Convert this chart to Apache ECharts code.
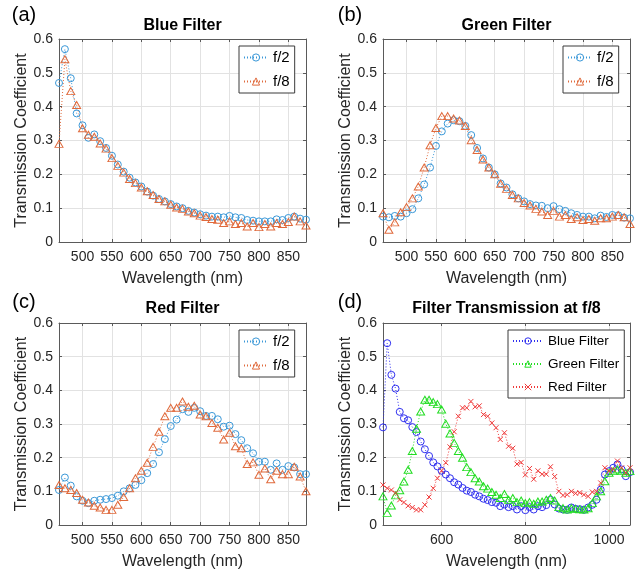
<!DOCTYPE html>
<html><head><meta charset="utf-8">
<script src="https://cdn.jsdelivr.net/npm/echarts@6/dist/echarts.min.js"></script>
<style>html,body{margin:0;padding:0;background:#fff}#c{width:638px;height:573px}</style>
</head><body><div id="c"></div>
<script>
// ---- data ----
const wavelength = [460,470,480,490,500,510,520,530,540,550,560,570,580,590,600,610,620,630,640,650,660,670,680,690,700,710,720,730,740,750,760,770,780,790,800,810,820,830,840,850,860,870,880,890,900,910,920,930,940,950,960,970,980,990,1000,1010,1020,1030,1040,1050];
const visTicks = [500,550,600,650,700,750,800,850];
const nirTicks = [600,800,1000];
const yTicks = [0,0.1,0.2,0.3,0.4,0.5,0.6];

const blueF2 = [0.47,0.57,0.484,0.38,0.345,0.308,0.318,0.298,0.278,0.255,0.229,0.208,0.19,0.176,0.164,0.149,0.137,0.127,0.12,0.112,0.105,0.1,0.092,0.087,0.082,0.078,0.075,0.075,0.073,0.077,0.073,0.071,0.065,0.063,0.061,0.061,0.061,0.067,0.065,0.071,0.075,0.069,0.066];
const blueF8 = [0.29,0.54,0.446,0.405,0.336,0.317,0.311,0.291,0.276,0.248,0.225,0.205,0.186,0.174,0.161,0.15,0.139,0.127,0.12,0.11,0.102,0.098,0.09,0.085,0.078,0.074,0.068,0.066,0.056,0.061,0.053,0.056,0.046,0.056,0.044,0.053,0.046,0.056,0.053,0.059,0.075,0.061,0.049,
  0.046,0.045,0.052,0.048,0.047,0.045,0.052,0.06,0.075,0.105,0.15,0.16,0.17,0.18,0.165,0.145,0.157];
const greenF2 = [0.075,0.073,0.077,0.075,0.085,0.097,0.129,0.17,0.22,0.284,0.327,0.35,0.36,0.357,0.343,0.316,0.278,0.247,0.22,0.2,0.173,0.161,0.141,0.129,0.12,0.112,0.108,0.107,0.1,0.106,0.097,0.092,0.085,0.08,0.075,0.075,0.07,0.078,0.074,0.08,0.079,0.072,0.07];
const greenF8 = [0.085,0.036,0.058,0.088,0.103,0.129,0.164,0.22,0.286,0.337,0.372,0.372,0.365,0.359,0.343,0.301,0.272,0.244,0.22,0.2,0.172,0.157,0.139,0.129,0.115,0.108,0.098,0.09,0.08,0.092,0.075,0.08,0.068,0.073,0.065,0.068,0.063,0.07,0.07,0.075,0.08,0.073,0.053,
  0.05,0.046,0.05,0.048,0.047,0.046,0.05,0.065,0.085,0.1,0.13,0.155,0.16,0.165,0.16,0.155,0.16];
const redF2 = [0.104,0.141,0.117,0.085,0.072,0.065,0.072,0.075,0.077,0.08,0.087,0.1,0.109,0.119,0.133,0.154,0.181,0.216,0.255,0.294,0.313,0.344,0.336,0.348,0.338,0.324,0.324,0.314,0.292,0.295,0.27,0.252,0.228,0.213,0.188,0.188,0.164,0.183,0.164,0.175,0.171,0.151,0.151];
const redF8 = [0.119,0.109,0.104,0.095,0.075,0.067,0.057,0.052,0.045,0.045,0.06,0.083,0.109,0.139,0.161,0.185,0.232,0.277,0.323,0.348,0.348,0.367,0.351,0.354,0.328,0.323,0.303,0.289,0.254,0.274,0.234,0.228,0.181,0.186,0.149,0.168,0.136,0.161,0.151,0.151,0.173,0.144,0.1,
  0.088,0.09,0.1,0.094,0.096,0.09,0.085,0.098,0.1,0.125,0.17,0.16,0.165,0.19,0.17,0.155,0.17];
const NVIS = 43; // 460..880 shown in panels a-c

// ---- style ----
const FF = 'Liberation Sans, Arial, Helvetica, sans-serif';
const AX = '#5a5a5a';
const TXT = '#262626';
const C_F2 = '#3A98D8', C_F8 = '#E06A3C';
const C_B = '#3030F0', C_G = '#22DD22', C_R = '#F03A3A';
const XSYM = 'path://M0,0L10,10M10,0L0,10';

const grids = [
  {left:59, top:39, width:247, height:203},
  {left:383, top:39, width:247, height:203},
  {left:59, top:323, width:247, height:202},
  {left:383, top:323, width:247, height:202}
];

function xAxes(g, max, ticks){
  const base = {type:'value', gridIndex:g, min:460, max:max};
  return [
    Object.assign({}, base, {position:'bottom',
      axisLine:{show:true, onZero:false, lineStyle:{color:AX, width:1}},
      axisTick:{show:true, inside:true, length:3, customValues:ticks, lineStyle:{color:AX}},
      axisLabel:{show:true, customValues:ticks, color:TXT, fontSize:14, margin:8, fontFamily:FF,
        formatter:v=>String(v)},
      splitLine:{show:true, lineStyle:{color:'#e2e2e2', width:1}},
      name:'Wavelength (nm)', nameLocation:'middle', nameGap:29,
      nameTextStyle:{color:TXT, fontSize:16, fontFamily:FF}}),
    Object.assign({}, base, {position:'top',
      axisLine:{show:true, onZero:false, lineStyle:{color:AX, width:1}},
      axisTick:{show:true, inside:true, length:3, customValues:ticks, lineStyle:{color:AX}},
      axisLabel:{show:false}, splitLine:{show:false}})
  ];
}
function yAxes(g){
  const base = {type:'value', gridIndex:g, min:0, max:0.6, interval:0.1};
  return [
    Object.assign({}, base, {position:'left',
      axisLine:{show:true, onZero:false, lineStyle:{color:AX, width:1}},
      axisTick:{show:true, inside:true, length:3, lineStyle:{color:AX}},
      axisLabel:{show:true, color:TXT, fontSize:14, margin:6, fontFamily:FF,
        formatter:v=>String(Math.round(v*10)/10)},
      splitLine:{show:true, lineStyle:{color:'#e2e2e2', width:1}},
      name:'Transmission Coefficient', nameLocation:'middle', nameGap:27,
      nameTextStyle:{color:TXT, fontSize:16, fontFamily:FF}}),
    Object.assign({}, base, {position:'right',
      axisLine:{show:true, onZero:false, lineStyle:{color:AX, width:1}},
      axisTick:{show:true, inside:true, length:3, lineStyle:{color:AX}},
      axisLabel:{show:false}, splitLine:{show:false}})
  ];
}

function pts(arr, n){ return arr.slice(0, n).map((v,i)=>[wavelength[i], v]); }
function mk(name, arr, n, color, symbol, size, g){
  return {type:'line', name, data:pts(arr, n), xAxisIndex:2*g, yAxisIndex:2*g,
    symbol, symbolSize:size, showSymbol:true, showAllSymbol:true, animation:false, silent:true,
    lineStyle:{color, width:1, type:[1,2]},
    itemStyle:{color:'transparent', borderColor:color, borderWidth:1},
    emphasis:{disabled:true}};
}

const series = [
  mk('f/2', blueF2, NVIS, C_F2, 'circle', 7, 0),
  mk('f/8', blueF8, NVIS, C_F8, 'triangle', [8,7], 0),
  mk('f/2', greenF2, NVIS, C_F2, 'circle', 7, 1),
  mk('f/8', greenF8, NVIS, C_F8, 'triangle', [8,7], 1),
  mk('f/2', redF2, NVIS, C_F2, 'circle', 7, 2),
  mk('f/8', redF8, NVIS, C_F8, 'triangle', [8,7], 2),
  mk('Blue Filter', blueF8, wavelength.length, C_B, 'circle', 7, 3),
  mk('Green Filter', greenF8, wavelength.length, C_G, 'triangle', [8,7], 3),
  mk('Red Filter', redF8, wavelength.length, C_R, XSYM, 5, 3)
];

function leg(left, top, names, fs, iw, ih, gap){
  return {left, top, orient:'vertical', data:names, selectedMode:false,
    backgroundColor:'#fff', borderColor:'#3a3a3a', borderWidth:1, borderRadius:0,
    padding:[4,5,4,4], itemWidth:iw, itemHeight:ih, itemGap:gap,
    itemStyle:{color:'transparent', borderColor:'inherit', borderWidth:1},
    textStyle:{fontSize:fs, color:'#000', fontFamily:FF}};
}

function txt(x, y, s, fs, bold){
  return {type:'text', x, y, silent:true,
    style:{text:s, fontSize:fs, fontWeight:bold?'bold':'normal', fontFamily:FF, fill:'#000',
      textAlign:'center', textVerticalAlign:'middle'}};
}

const chart = echarts.init(document.getElementById('c'), null, {renderer:'canvas'});
chart.setOption({
  animation:false,
  backgroundColor:'#fff',
  grid: grids,
  xAxis: [].concat(xAxes(0,880,visTicks), xAxes(1,880,visTicks), xAxes(2,880,visTicks), xAxes(3,1050,nirTicks)),
  yAxis: [].concat(yAxes(0), yAxes(1), yAxes(2), yAxes(3)),
  legend: [
    leg(239, 46, ['f/2','f/8'], 15, 24, 9, 9),
    leg(563, 46, ['f/2','f/8'], 15, 24, 9, 9),
    leg(239, 330, ['f/2','f/8'], 15, 24, 9, 9),
    leg(508, 330, ['Blue Filter','Green Filter','Red Filter'], 13.5, 30, 8, 9)
  ],
  graphic: [
    txt(24, 15, '(a)', 20, false),
    txt(350, 15, '(b)', 20, false),
    txt(24, 302, '(c)', 20, false),
    txt(350, 302, '(d)', 20, false),
    txt(182.5, 26, 'Blue Filter', 16, true),
    txt(506.5, 26, 'Green Filter', 16, true),
    txt(182.5, 309, 'Red Filter', 16, true),
    txt(506.5, 309, 'Filter Transmission at f/8', 16, true)
  ],
  series
});
</script></body></html>
